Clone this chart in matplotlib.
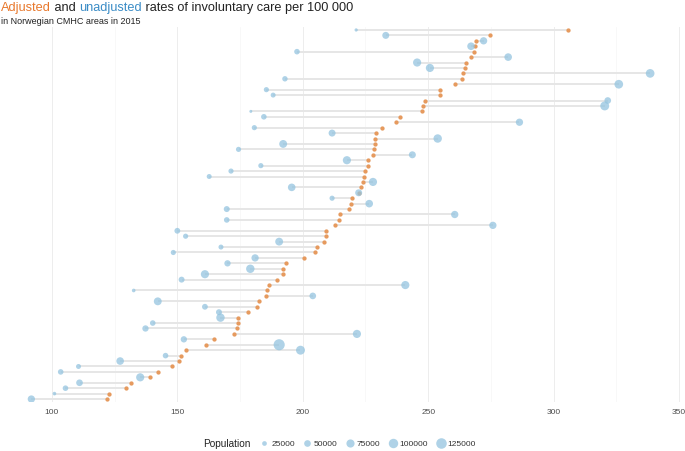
import matplotlib.pyplot as plt
from matplotlib.lines import Line2D

plt.rcParams['font.family'] = ['Liberation Sans', 'DejaVu Sans']

# rates per 100 000, ordered top to bottom as in the chart
adjusted = [305.9, 274.6, 269.2, 268.5, 268.1, 266.9, 265.0, 264.5, 263.9, 263.6,
            260.6, 254.9, 254.7, 248.8, 247.9, 247.7, 238.9, 237.3, 231.4, 229.1,
            228.9, 228.9, 228.6, 227.9, 226.1, 226.1, 224.7, 224.6, 224.0, 223.3,
            222.6, 219.5, 219.3, 218.3, 214.8, 214.5, 212.9, 209.4, 209.2, 208.5,
            205.7, 204.9, 200.5, 193.2, 192.3, 192.2, 189.9, 186.6, 185.9, 185.4,
            182.6, 181.9, 178.2, 174.2, 174.2, 173.9, 172.6, 164.8, 161.5, 153.5,
            151.4, 150.7, 147.7, 142.3, 139.2, 131.7, 129.4, 122.8, 122.0]
unadjusted = [221.3, 233.1, 272.1, 267.1, 197.7, 281.9, 245.6, 250.7, 338.5, 192.9,
              326.0, 185.5, 188.2, 321.6, 320.4, 179.3, 184.5, 286.4, 180.7, 211.7,
              253.8, 192.2, 174.4, 243.7, 217.6, 183.3, 171.4, 162.7, 228.0, 195.6,
              222.3, 211.7, 226.5, 169.7, 260.6, 169.7, 275.8, 150.0, 153.3, 190.6,
              167.4, 148.4, 181.0, 170.0, 179.1, 161.0, 151.7, 240.9, 132.6, 204.0,
              142.2, 161.0, 166.6, 167.2, 140.2, 137.3, 221.6, 152.6, 190.6, 199.1,
              145.3, 127.2, 110.6, 103.5, 135.2, 111.0, 105.4, 101.0, 91.8]
population = [12000, 55000, 60000, 65000, 35000, 65000, 75000, 75000, 85000, 33000,
              85000, 30000, 28000, 50000, 90000, 10000, 35000, 60000, 30000, 55000,
              80000, 70000, 30000, 55000, 75000, 30000, 30000, 28000, 75000, 65000,
              55000, 30000, 65000, 40000, 60000, 35000, 60000, 38000, 30000, 70000,
              28000, 30000, 60000, 45000, 80000, 75000, 40000, 75000, 15000, 50000,
              70000, 38000, 40000, 80000, 35000, 45000, 75000, 45000, 140000, 90000,
              35000, 65000, 28000, 35000, 75000, 50000, 35000, 15000, 60000]
legend_pops = [25000, 50000, 75000, 100000, 125000]

orange = '#E69A5E'
blue = '#94C4DF'


def size_of(p):
    return p * 4.6e-4


n = len(adjusted)
ypos = [n - 1 - i for i in range(n)]

fig = plt.figure(figsize=(6.85, 4.52), dpi=100)
ax = fig.add_axes([0, 48.7 / 452, 1, 375.6 / 452])

ax.hlines(ypos, adjusted, unadjusted, color='#E6E6E6', lw=1.4, zorder=1)
ax.scatter(adjusted, ypos, s=9.5, color=orange, zorder=2, linewidths=0)
ax.scatter(unadjusted, ypos, s=[size_of(p) for p in population], color=blue,
           alpha=0.75, zorder=3, linewidths=0)

ax.set_xlim(79.3, 352.4)
ax.set_ylim(-0.6, n - 0.4)
ax.set_xticks([100, 150, 200, 250, 300, 350])
ax.set_xticks([125, 175, 225, 275, 325], minor=True)
ax.set_yticks([])
ax.grid(axis='x', which='major', color='#EDEDED', lw=0.7, zorder=0)
ax.grid(axis='x', which='minor', color='#F5F5F5', lw=0.5, zorder=0)
ax.tick_params(axis='x', which='both', length=0, pad=4, labelsize=6, labelcolor='#4D4D4D')
for s in ax.spines.values():
    s.set_visible(False)
ax.set_axisbelow(True)

# legend
handles = [Line2D([], [], ls='', marker='o', color=blue, alpha=0.75,
                  markeredgewidth=0, markersize=size_of(p) ** 0.5) for p in legend_pops]
fig.legend(handles, [str(p) for p in legend_pops], loc='center', ncol=5,
           bbox_to_anchor=(368 / 685, 7.5 / 452), frameon=False, fontsize=6,
           handletextpad=0.3, columnspacing=1.0, handlelength=1.0,
           labelcolor='#333333')
fig.text(250 / 685, 7.5 / 452, 'Population', ha='right', va='center', fontsize=7.2,
         color='#222222')

# multicolour title
fig.canvas.draw()
renderer = fig.canvas.get_renderer()
x = 1 / 685
for txt, col in [('Adjusted', '#E8782C'), (' and ', '#222222'),
                 ('unadjusted', '#3A8CC6'), (' rates of involuntary care per 100 000', '#222222')]:
    t = fig.text(x, 1 - 8 / 452, txt, color=col, fontsize=9.2, va='center', ha='left')
    bb = t.get_window_extent(renderer=renderer)
    x += bb.width / fig.bbox.width
fig.text(1 / 685, 1 - 21 / 452, 'in Norwegian CMHC areas in 2015', fontsize=6.5,
         va='center', ha='left', color='#222222')

fig.savefig('out.png', dpi=100)
